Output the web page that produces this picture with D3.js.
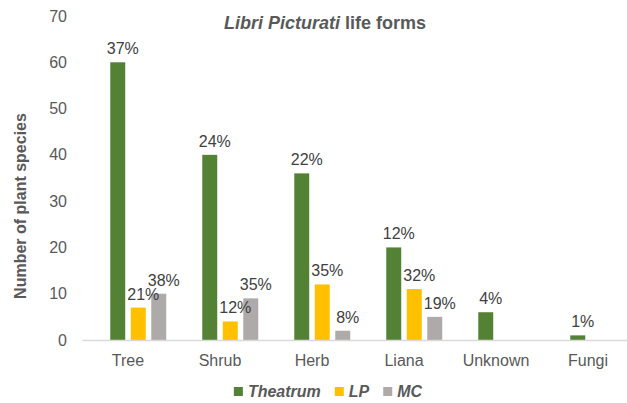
<!DOCTYPE html>
<html>
<head>
<meta charset="utf-8">
<script src="https://cdn.jsdelivr.net/npm/d3@7"></script>
<style>
  body { margin: 0; background: #fff; }
  text { font-family: Arial, "Liberation Sans", sans-serif; }
</style>
</head>
<body>
<svg class="chart" width="627" height="403"></svg>
<script>
	// values
	var categories = ["Tree", "Shrub", "Herb", "Liana", "Unknown", "Fungi"];
	var seriesKeys = ["Theatrum", "LP", "MC"];
	var theatrum = [60, 40, 36, 20, 6, 1];
	var lp = [7, 4, 12, 11, null, null];
	var mc = [10, 9, 2, 5, null, null];
	var theatrumPct = ["37%", "24%", "22%", "12%", "4%", "1%"];
	var lpPct = ["21%", "12%", "35%", "32%", null, null];
	var mcPct = ["38%", "35%", "8%", "19%", null, null];
	var yTicks = [0, 10, 20, 30, 40, 50, 60, 70];

	const colors = {
		Theatrum: "#548235",
		LP: "#ffc000",
		MC: "#aeaaaa",
		text: "#595959",
		label: "#404040",
		axis: "#d9d9d9"
	};

	var svg = d3.select('.chart');

	var values = {Theatrum: theatrum, LP: lp, MC: mc};
	var pcts = {Theatrum: theatrumPct, LP: lpPct, MC: mcPct};

	// flatten into one row per bar
	var bars = [];
	seriesKeys.forEach(function(k) {
		categories.forEach(function(c, i) {
			if (values[k][i] != null) bars.push({cat: c, key: k, value: values[k][i], pct: pcts[k][i]});
		});
	});

	var x0 = d3.scaleBand()
		.domain(categories)
		.range([82, 634]);

	// excel left an empty slot in front of the first series
	var x1 = d3.scaleBand()
		.domain(["blank"].concat(seriesKeys))
		.range([-41, 41])
		.paddingInner(0.27)
		.paddingOuter(0.135);

	var y = d3.scaleLinear()
		.domain([0, 70])
		.range([340, 16]);

	var cx = (d) => x0(d.cat) + x0.bandwidth() / 2 + x1(d.key);

	// y axis (labels only)
	var yAxis = svg.append("g")
		.attr("transform", "translate(82,0)")
		.call(d3.axisLeft(y).tickValues(yTicks).tickSize(0).tickPadding(15));
	yAxis.select(".domain").remove();
	yAxis.selectAll("text")
		.attr("fill", colors.text)
		.style("font-size", "16px");

	// bars
	svg.append("g")
		.selectAll("rect")
		.data(bars)
		.enter()
		.append("rect")
		.attr("x", cx)
		.attr("y", (d) => y(d.value))
		.attr("width", x1.bandwidth())
		.attr("height", (d) => y(0) - y(d.value))
		.attr("fill", (d) => colors[d.key]);

	// x axis
	var xAxis = svg.append("g")
		.attr("transform", "translate(0,340)")
		.call(d3.axisBottom(x0).tickSize(0).tickSizeOuter(0).tickPadding(15));
	xAxis.select(".domain")
		.attr("stroke", colors.axis)
		.attr("stroke-width", 1.5);
	xAxis.selectAll("text")
		.attr("fill", colors.text)
		.style("font-size", "16px");

	// data labels
	svg.append("g")
		.selectAll("text")
		.data(bars)
		.enter()
		.append("text")
		.attr("x", (d) => cx(d) + x1.bandwidth() / 2 + 5)
		.attr("y", (d) => y(d.value) - 8)
		.attr("text-anchor", "middle")
		.attr("fill", colors.label)
		.style("font-size", "16px")
		.text((d) => d.pct);

	// title
	var title = svg.append("text")
		.attr("x", 325)
		.attr("y", 29)
		.attr("text-anchor", "middle")
		.attr("fill", colors.text)
		.style("font-size", "18px")
		.style("font-weight", "bold");
	title.append("tspan").style("font-style", "italic").text("Libri Picturati");
	title.append("tspan").text(" life forms");

	// y axis title
	svg.append("text")
		.attr("transform", "translate(26,206) rotate(-90)")
		.attr("text-anchor", "middle")
		.attr("fill", colors.text)
		.style("font-size", "16px")
		.style("font-weight", "bold")
		.text("Number of plant species");

	// legend
	var legend = svg.append("g");
	var lx = 0;
	seriesKeys.forEach(function(k) {
		legend.append("rect")
			.attr("x", lx)
			.attr("y", 387)
			.attr("width", 9)
			.attr("height", 9)
			.attr("fill", colors[k]);
		var t = legend.append("text")
			.attr("x", lx + 14)
			.attr("y", 397)
			.attr("fill", colors.text)
			.style("font-size", "16px")
			.style("font-weight", "bold")
			.style("font-style", "italic")
			.text(k);
		lx += 14 + t.node().getComputedTextLength() + 14;
	});
	var lw = lx - 14;
	legend.attr("transform", "translate(" + (328 - lw / 2) + ",0)");
</script>
</body>
</html>
